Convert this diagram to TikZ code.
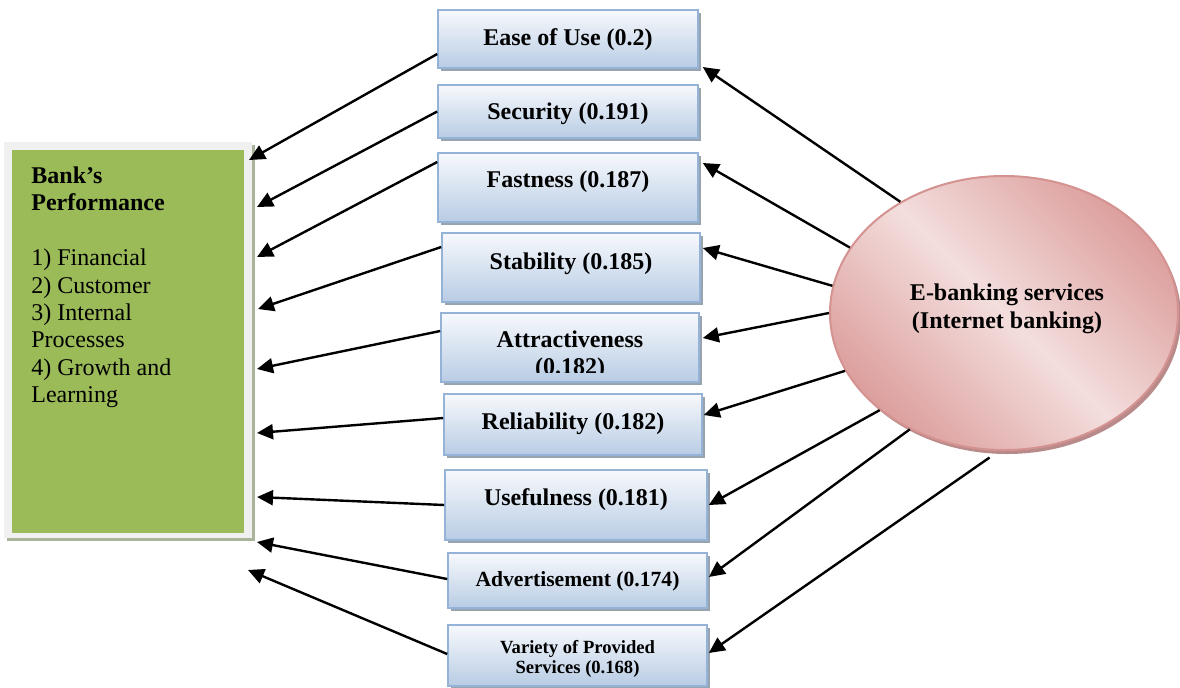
\documentclass[tikz,border=0pt]{standalone}
\usepackage{fontspec}
\setmainfont{Liberation Serif}
\usetikzlibrary{arrows.meta,shapes.geometric,shadows}

\definecolor{boxline}{HTML}{95B3D7}
\definecolor{boxtop}{HTML}{F7F9FC}
\definecolor{boxbottom}{HTML}{B8CCE4}
\definecolor{boxshade}{HTML}{98A3B0}
\definecolor{leafgreen}{HTML}{9BBB59}
\definecolor{framegray}{HTML}{F0F0F0}
\definecolor{frameshade}{HTML}{A9B49A}
\definecolor{rosedark}{HTML}{DC9F9D}
\definecolor{roselight}{HTML}{F3DEDD}
\definecolor{roseline}{HTML}{D49391}
\definecolor{roseshade}{HTML}{B88B8A}

\begin{document}
\begin{tikzpicture}[x=0.5pt,y=-0.5pt,
  factor/.style={draw=boxline, line width=0.8pt, top color=boxtop,
    bottom color=boxbottom, inner sep=0pt,
    general shadow={fill=boxshade, shadow xshift=1.5pt, shadow yshift=-1.5pt}},
  lbl/.style={font=\fontsize{12pt}{14pt}\selectfont\bfseries, align=center, inner sep=0pt},
  link/.style={line width=1.2pt, -{Triangle[length=8pt,width=7.5pt]}},
]
\useasboundingbox (0,0) rectangle (1180,687);

% ---- Bank's performance panel ----
\node[fill=framegray, inner sep=0pt, minimum width=124pt, minimum height=198pt,
  general shadow={fill=frameshade, shadow xshift=1.5pt, shadow yshift=-1.5pt}]
  (frame) at (128,340) {};
\node[fill=leafgreen, inner sep=0pt, minimum width=116pt, minimum height=191.5pt]
  (bank) at (128,341.5) {};
\node[anchor=north west, align=left, inner sep=0pt,
  font=\fontsize{12pt}{13.7pt}\selectfont] (banktext) at (31,166.5)
  {\textbf{Bank’s}\\\textbf{Performance}\\[13.7pt]1) Financial\\2) Customer\\3) Internal\\Processes\\4) Growth and\\Learning};

% ---- factor boxes ----
\node[factor, minimum width=130pt, minimum height=29pt]   (b1) at (568,39) {};
\node[factor, minimum width=130pt, minimum height=26.5pt] (b2) at (568,111.5) {};
\node[factor, minimum width=130pt, minimum height=34.5pt] (b3) at (568,187.5) {};
\node[factor, minimum width=129pt, minimum height=34.5pt] (b4) at (571,267.5) {};
\node[factor, minimum width=129pt, minimum height=34.5pt] (b5) at (570,347.5) {};
\node[factor, minimum width=129pt, minimum height=30.5pt] (b6) at (573,424.5) {};
\node[factor, minimum width=131pt, minimum height=35pt]   (b7) at (576,505) {};
\node[factor, minimum width=129.5pt, minimum height=27.5pt] (b8) at (577.5,580.5) {};
\node[factor, minimum width=129.5pt, minimum height=30.5pt] (b9) at (577.5,655.5) {};

\node[lbl] (t1) at (568,40) {Ease of Use (0.2)};
\node[lbl] (t2) at (568,114) {Security (0.191)};
\node[lbl] (t3) at (568,181.5) {Fastness (0.187)};
\node[lbl] (t4) at (571,263.5) {Stability (0.185)};
\begin{scope}
  \clip (441,313) rectangle (699,372);
  \node[lbl, font=\fontsize{12pt}{13.5pt}\selectfont\bfseries] (t5) at (570,355) {Attractiveness\\(0.182)};
\end{scope}
\node[lbl] (t6) at (573,424) {Reliability (0.182)};
\node[lbl] (t7) at (576,499.5) {Usefulness (0.181)};
\node[lbl, font=\fontsize{10.8pt}{13pt}\selectfont\bfseries] (t8) at (577.5,581) {Advertisement (0.174)};
\node[lbl, font=\fontsize{9.3pt}{10pt}\selectfont\bfseries] (t9) at (577.5,659) {Variety of Provided\\Services (0.168)};

% ---- E-banking ellipse ----
\node[ellipse, draw=roseline, line width=1pt, inner sep=0pt,
  minimum width=174pt, minimum height=137pt,
  top color=rosedark, bottom color=rosedark, middle color=roselight, shading angle=-45,
  general shadow={fill=roseshade, shadow xshift=1.5pt, shadow yshift=-2pt}]
  (eb) at (1004,313) {};
\node[lbl] (ebtext) at (1007,308.5) {E-banking services\\(Internet banking)};

% ---- arrow targets on the panel side ----
\coordinate (p1) at (249,160);
\coordinate (p2) at (257,207);
\coordinate (p3) at (257,257);
\coordinate (p4) at (258,309);
\coordinate (p5) at (257,369);
\coordinate (p6) at (257,433);
\coordinate (p7) at (257,497);
\coordinate (p8) at (257,542);
\coordinate (p9) at (248,570);

% factors -> bank's performance
\draw[link] ([yshift=-7.5pt]b1.west) -- (p1);
\draw[link] (b2.west) -- (p2);
\draw[link] ([yshift=12.75pt]b3.west) -- (p3);
\draw[link] ([yshift=10.25pt]b4.west) -- (p4);
\draw[link] ([yshift=8.25pt]b5.west) -- (p5);
\draw[link] ([yshift=3.25pt]b6.west) -- (p6);
\draw[link] (b7.west) -- (p7);
\draw[link] ([yshift=0.75pt]b8.west) -- (p8);
\draw[link] ([yshift=0.75pt]b9.west) -- (p9);

% e-banking services -> factors
\draw[link] (eb.133) -- ([xshift=2pt,yshift=-14pt]b1.east);
\draw[link] (eb.157) -- ([xshift=2pt,yshift=12.25pt]b3.east);
\draw[link] (eb.171) -- ([xshift=1pt,yshift=9.75pt]b4.east);
\draw[link] (eb.180) -- ([xshift=1.5pt,yshift=4.75pt]b5.east);
\draw[link] (eb.200) -- ([xshift=0.5pt,yshift=4.75pt]b6.east);
\draw[link] (eb.218) -- ([xshift=0.5pt]b7.east);
\draw[link] (eb.231) -- ([xshift=0.5pt,yshift=1.75pt]b8.east);
\draw[link] ([yshift=-3.5pt]eb.264) -- ([xshift=0.5pt,yshift=1.25pt]b9.east);
\end{tikzpicture}
\end{document}
